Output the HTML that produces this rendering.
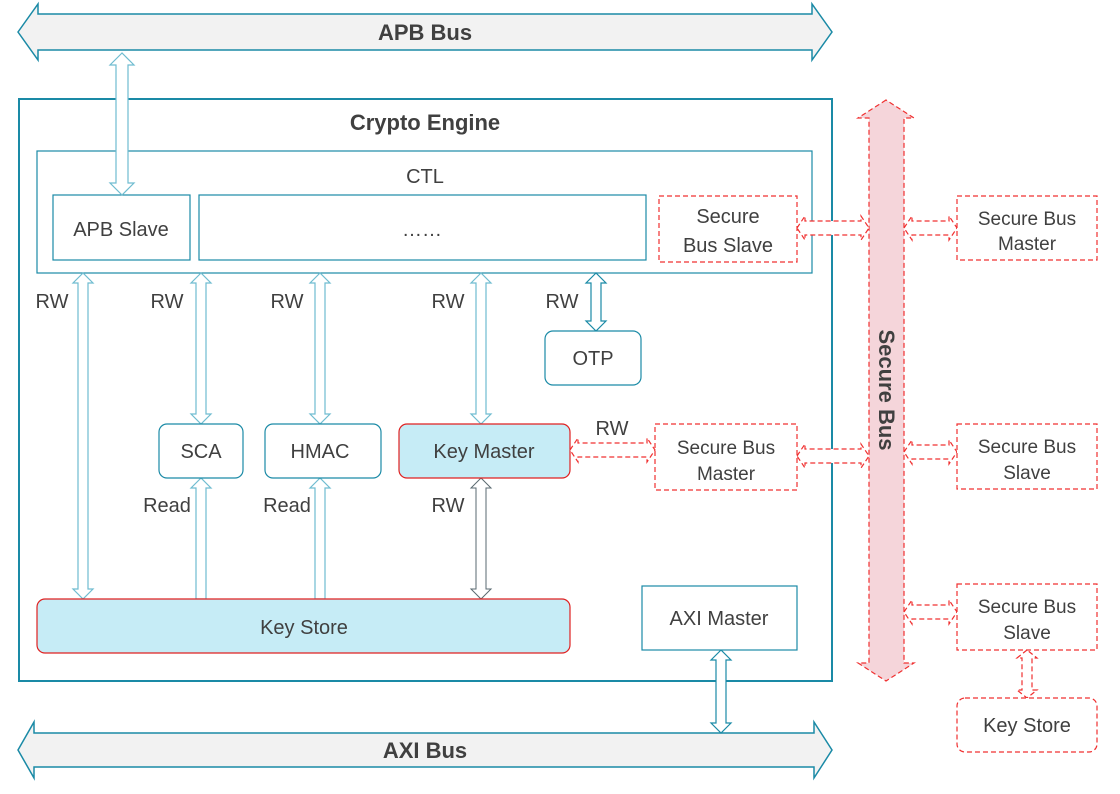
<!DOCTYPE html>
<html><head><meta charset="utf-8"><style>
html,body{margin:0;padding:0;background:#fff;}
svg{display:block;font-family:"Liberation Sans",sans-serif;}
</style></head><body>
<svg width="1120" height="794" viewBox="0 0 1120 794" xmlns="http://www.w3.org/2000/svg">
<g fill="#404040" font-size="20" text-anchor="middle">
<!-- buses -->
<polygon points="18,32 38,4 38,14 812,14 812,4 832,32 812,60 812,50 38,50 38,60" fill="#f2f2f2" stroke="#1a8aa6" stroke-width="1.5"/>
<text x="425" y="40" font-weight="bold" font-size="22">APB Bus</text>
<polygon points="18,750 34,722 34,733 814,733 814,722 832,750 814,778 814,767 34,767 34,778" fill="#f2f2f2" stroke="#1a8aa6" stroke-width="1.5"/>
<text x="425" y="758" font-weight="bold" font-size="22">AXI Bus</text>

<!-- Crypto engine -->
<rect x="19" y="99" width="813" height="582" fill="none" stroke="#1a8aa6" stroke-width="2"/>
<text x="425" y="130" font-weight="bold" font-size="22">Crypto Engine</text>
<rect x="37" y="151" width="775" height="122" fill="#fff" stroke="#1a8aa6" stroke-width="1.2"/>
<text x="425" y="183">CTL</text>
<rect x="53" y="195" width="137" height="65" fill="#fff" stroke="#1a8aa6" stroke-width="1.2"/>
<text x="121" y="236">APB Slave</text>
<rect x="199" y="195" width="447" height="65" fill="#fff" stroke="#1a8aa6" stroke-width="1.2"/>
<text x="422" y="236">……</text>
<rect x="659" y="196" width="138" height="66" fill="#fff" stroke="#f03030" stroke-width="1.2" stroke-dasharray="5,3"/>
<text x="728" y="223">Secure</text><text x="728" y="252">Bus Slave</text>

<polygon points="122,53 110,65 116,65 116,183 110,183 122,195 134,183 128,183 128,65 134,65" fill="#fff" stroke="#6fbcd0" stroke-width="1.2"/>

<!-- vertical arrows -->
<g fill="#fff" stroke="#6fbcd0" stroke-width="1.2">
<polygon points="83,273 73,283 78,283 78,589 73,589 83,599 93,589 88,589 88,283 93,283"/>
<polygon points="201,273 191,283 196,283 196,414 191,414 201,424 211,414 206,414 206,283 211,283"/>
<polygon points="320,273 310,283 315,283 315,414 310,414 320,424 330,414 325,414 325,283 330,283"/>
<polygon points="481,273 471,283 476,283 476,414 471,414 481,424 491,414 486,414 486,283 491,283"/>
<polygon points="201,478 191,488 196,488 196,599 206,599 206,488 211,488"/>
<polygon points="320,478 310,488 315,488 315,599 325,599 325,488 330,488"/>
</g>
<polygon points="596,273 586,283 591,283 591,321 586,321 596,331 606,321 601,321 601,283 606,283" fill="#fff" stroke="#1a8aa6" stroke-width="1.2"/>
<polygon points="481,478 471,488 476,488 476,589 471,589 481,599 491,589 486,589 486,488 491,488" fill="#fff" stroke="#5a6a70" stroke-width="1"/>
<polygon points="721,650 711,660 716,660 716,723 711,723 721,733 731,723 726,723 726,660 731,660" fill="#fff" stroke="#1a8aa6" stroke-width="1.2"/>

<text x="52" y="308">RW</text><text x="167" y="308">RW</text><text x="287" y="308">RW</text>
<text x="448" y="308">RW</text><text x="562" y="308">RW</text><text x="612" y="435">RW</text>
<text x="167" y="512">Read</text><text x="287" y="512">Read</text><text x="448" y="512">RW</text>

<rect x="545" y="331" width="96" height="54" rx="8" fill="#fff" stroke="#1a8aa6" stroke-width="1.2"/>
<text x="593" y="365">OTP</text>
<rect x="159" y="424" width="84" height="54" rx="8" fill="#fff" stroke="#1a8aa6" stroke-width="1.2"/>
<text x="201" y="458">SCA</text>
<rect x="265" y="424" width="116" height="54" rx="8" fill="#fff" stroke="#1a8aa6" stroke-width="1.2"/>
<text x="320" y="458">HMAC</text>
<rect x="399" y="424" width="171" height="54" rx="8" fill="#c6ecf6" stroke="#e02020" stroke-width="1.2"/>
<text x="484" y="458">Key Master</text>
<rect x="37" y="599" width="533" height="54" rx="8" fill="#c6ecf6" stroke="#e02020" stroke-width="1.2"/>
<text x="304" y="634">Key Store</text>
<rect x="642" y="586" width="155" height="64" fill="#fff" stroke="#1a8aa6" stroke-width="1.2"/>
<text x="719" y="625">AXI Master</text>

<rect x="655" y="424" width="142" height="66" fill="#fff" stroke="#f03030" stroke-width="1.2" stroke-dasharray="5,3"/>
<text x="726" y="454" font-size="19">Secure Bus</text><text x="726" y="480" font-size="19">Master</text>

<!-- Secure bus -->
<polygon points="886,100 858,118 869,118 869,663 858,663 886,681 914,663 904,663 904,118 914,118" fill="#f5d5da" stroke="#f03030" stroke-width="1.2" stroke-dasharray="5,3"/>
<text x="0" y="0" font-weight="bold" font-size="22" transform="translate(879,390) rotate(90)">Secure Bus</text>

<g fill="#fff" stroke="#f03030" stroke-width="1.2" stroke-dasharray="5,3">
<polygon points="797,228 805,216 805,221 861,221 861,216 869,228 861,240 861,235 805,235 805,240"/>
<polygon points="904,228 912,216 912,221 949,221 949,216 957,228 949,240 949,235 912,235 912,240"/>
<polygon points="570,450 578,438 578,443 647,443 647,438 655,450 647,462 647,457 578,457 578,462"/>
<polygon points="797,456 805,444 805,449 861,449 861,444 869,456 861,468 861,463 805,463 805,468"/>
<polygon points="904,452 912,440 912,445 949,445 949,440 957,452 949,464 949,459 912,459 912,464"/>
<polygon points="904,612 912,600 912,605 949,605 949,600 957,612 949,624 949,619 912,619 912,624"/>
<polygon points="1027,650 1017,658 1022,658 1022,690 1017,690 1027,698 1037,690 1032,690 1032,658 1037,658"/>
<rect x="957" y="196" width="140" height="64"/>
<rect x="957" y="424" width="140" height="65"/>
<rect x="957" y="584" width="140" height="66"/>
<rect x="957" y="698" width="140" height="54" rx="8"/>
</g>
<text x="1027" y="225" font-size="19">Secure Bus</text><text x="1027" y="250" font-size="19">Master</text>
<text x="1027" y="453" font-size="19">Secure Bus</text><text x="1027" y="479" font-size="19">Slave</text>
<text x="1027" y="613" font-size="19">Secure Bus</text><text x="1027" y="639" font-size="19">Slave</text>
<text x="1027" y="732">Key Store</text>
</g>
</svg>
</body></html>
